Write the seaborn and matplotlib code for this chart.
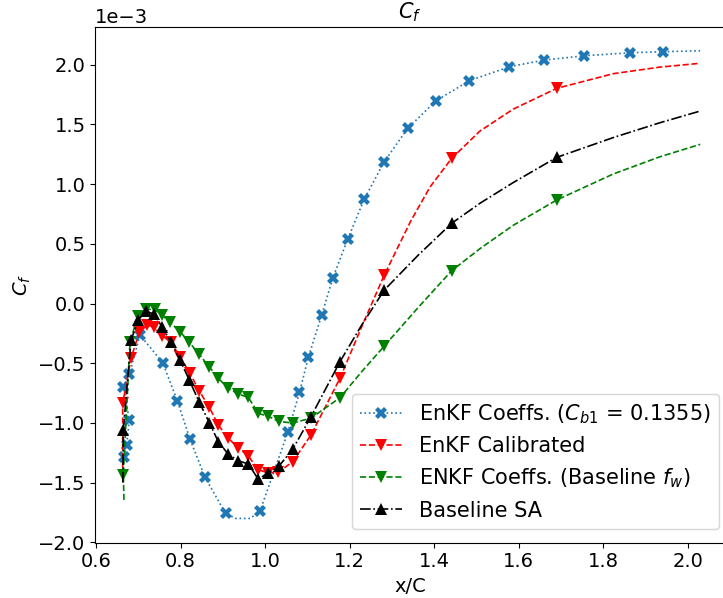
import matplotlib
matplotlib.use("Agg")
import matplotlib.pyplot as plt
import seaborn as sns
import numpy as np

# ---------------- data (Cf in units of 1e-3) ----------------
blue_x = [0.6662, 0.6726, 0.6788, 0.6646, 0.6788, 0.7041, 0.7578, 0.7923, 0.8224, 0.8579,
          0.9064, 0.9300, 0.9650, 0.9880, 1.0542, 1.0814, 1.1027, 1.1340, 1.1600, 1.1955,
          1.2347, 1.2820, 1.3374, 1.4036, 1.4831, 1.5778, 1.6606, 1.7552, 1.8633, 1.9420, 2.0292]
blue_y = [-1.283, -1.185, -0.976, -0.697, -0.593, -0.264, -0.496, -0.814, -1.137, -1.456,
          -1.757, -1.800, -1.800, -1.738, -1.074, -0.744, -0.446, -0.096, 0.211, 0.540,
          0.875, 1.188, 1.467, 1.696, 1.866, 1.983, 2.039, 2.075, 2.100, 2.109, 2.117]
blue_marks = list(range(0, 11)) + list(range(13, 30))

red_x = [0.6630, 0.6632, 0.6828, 0.7024, 0.7214, 0.7379, 0.7568, 0.7774, 0.7987, 0.8224,
         0.8437, 0.8680, 0.8893, 0.9130, 0.9366, 0.9603, 0.9840, 1.0076, 1.0313, 1.0653,
         1.1086, 1.1772, 1.2286, 1.2820, 1.3445, 1.3900, 1.4415, 1.5085, 1.5870, 1.6899,
         1.8238, 1.9340, 2.0293]
red_y = [-1.450, -0.836, -0.459, -0.241, -0.180, -0.199, -0.270, -0.325, -0.446, -0.585,
         -0.730, -0.869, -1.018, -1.129, -1.208, -1.277, -1.394, -1.417, -1.414, -1.325,
         -1.101, -0.626, -0.194, 0.239, 0.690, 0.975, 1.216, 1.445, 1.628, 1.802,
         1.925, 1.980, 2.012]
red_marks = list(range(1, 22)) + [23, 26, 29]

green_x = [0.6662, 0.6646, 0.6804, 0.6994, 0.7190, 0.7389, 0.7561, 0.7751, 0.7987, 0.8207,
           0.8437, 0.8673, 0.8893, 0.9130, 0.9366, 0.9603, 0.9840, 1.0076, 1.0318, 1.0653,
           1.1086, 1.1772, 1.2286, 1.2820, 1.3625, 1.4415, 1.5085, 1.5870, 1.6899, 1.8238,
           1.9340, 2.0293]
green_y = [-1.645, -1.437, -0.320, -0.105, -0.049, -0.049, -0.096, -0.157, -0.236, -0.325,
           -0.423, -0.528, -0.626, -0.710, -0.758, -0.786, -0.920, -0.945, -0.987, -1.001,
           -0.960, -0.789, -0.571, -0.356, -0.032, 0.275, 0.460, 0.655, 0.867, 1.085,
           1.229, 1.333]
green_marks = list(range(1, 22)) + [23, 25, 28]

black_x = [0.6635, 0.6646, 0.6828, 0.7001, 0.7183, 0.7372, 0.7568, 0.7767, 0.7987, 0.8207,
           0.8437, 0.8680, 0.8893, 0.9130, 0.9366, 0.9603, 0.9840, 1.0076, 1.0329, 1.0653,
           1.1086, 1.1772, 1.2286, 1.2820, 1.3625, 1.4415, 1.5085, 1.5870, 1.6899, 1.8238,
           1.9340, 2.0293]
black_y = [-1.500, -1.060, -0.308, -0.138, -0.063, -0.090, -0.199, -0.320, -0.473, -0.641,
           -0.822, -0.998, -1.157, -1.263, -1.317, -1.344, -1.472, -1.417, -1.361, -1.221,
           -0.948, -0.487, -0.180, 0.113, 0.406, 0.672, 0.840, 1.013, 1.224, 1.390,
           1.514, 1.612]
black_marks = list(range(1, 22)) + [23, 25, 28]

labels = ["EnKF Coeffs. ($C_{b1}$ = 0.1355)", "EnKF Calibrated",
          "ENKF Coeffs. (Baseline $f_w$)", "Baseline SA"]

# ---------------- figure ----------------
fig = plt.figure(figsize=(7.23, 5.98), dpi=100)
ax = fig.add_axes([0.1318, 0.0928, 0.8703, 0.862])

scale = 1e-3
series = [
    (blue_x, blue_y, blue_marks, "#1f77b4", ":", "X"),
    (red_x, red_y, red_marks, "red", "--", "v"),
    (green_x, green_y, green_marks, "green", "--", "v"),
    (black_x, black_y, black_marks, "black", "-.", "^"),
]
for (xs, ys, marks, col, ls, mk), lab in zip(series, labels):
    sns.lineplot(x=np.array(xs), y=np.array(ys) * scale, ax=ax, sort=False, estimator=None,
                 color=col, linestyle=ls, marker=mk, markevery=marks, markersize=8,
                 markeredgewidth=0, linewidth=1.2, label=lab)

ax.set_xlim(0.5983, 2.0869)
ax.set_ylim(-2.0017e-3, 2.3157e-3)
ax.set_xticks([0.6, 0.8, 1.0, 1.2, 1.4, 1.6, 1.8, 2.0])
ax.set_yticks(np.arange(-2.0, 2.01, 0.5) * scale)
ax.ticklabel_format(axis='y', style='sci', scilimits=(0, 0))
ax.yaxis.get_offset_text().set_fontsize(14)
ax.tick_params(labelsize=14)
ax.set_xlabel("x/C", fontsize=14)
ax.set_ylabel("$C_f$", fontsize=14)
ax.set_title("$C_f$", fontsize=15)

ax.legend(loc="lower right", bbox_to_anchor=(719 / 723, (598 - 529) / 598),
          bbox_transform=fig.transFigure, borderaxespad=0, fontsize=15)

fig.savefig("out.png", dpi=100)
